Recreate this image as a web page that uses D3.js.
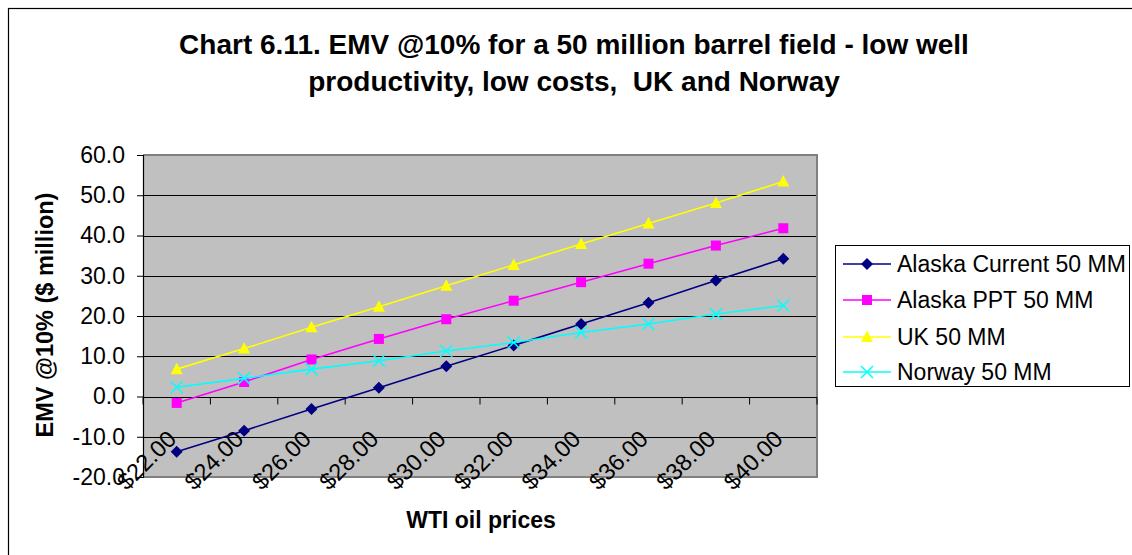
<!DOCTYPE html>
<html>
<head>
<meta charset="utf-8">
<script src="https://cdn.jsdelivr.net/npm/d3@7"></script>
<style>
  html, body { margin: 0; padding: 0; background: #fff; }
  svg { display: block; font-family: "Liberation Sans", Arial, sans-serif; }
  .pre { white-space: pre; }
</style>
</head>
<body>
<svg id="chart" width="1132" height="555"></svg>
<script>
const categories = ["$22.00","$24.00","$26.00","$28.00","$30.00","$32.00","$34.00","$36.00","$38.00","$40.00"];
const alaskaCurrent = [-13.7, -8.5, -3.1, 2.2, 7.5, 12.7, 18.0, 23.3, 28.8, 34.2];
const alaskaPPT     = [-1.6, 3.6, 9.2, 14.3, 19.2, 23.8, 28.4, 33.0, 37.5, 41.8];
const uk            = [6.8, 11.9, 17.2, 22.3, 27.5, 32.7, 37.9, 43.0, 48.1, 53.4];
const norway        = [2.3, 4.5, 6.8, 8.9, 11.3, 13.4, 15.9, 18.0, 20.5, 22.6];
const seriesNames = ["Alaska Current 50 MM", "Alaska PPT 50 MM", "UK 50 MM", "Norway 50 MM"];
const yTicks = [-20, -10, 0, 10, 20, 30, 40, 50, 60];
const titleLines = ["Chart 6.11. EMV @10% for a 50 million barrel field - low well", "productivity, low costs,  UK and Norway"];
const yTitle = "EMV @10% ($ million)";
const xTitle = "WTI oil prices";

const series = [
  { name: seriesNames[0], values: alaskaCurrent, color: "#000080", marker: "diamond" },
  { name: seriesNames[1], values: alaskaPPT, color: "#FF00FF", marker: "square" },
  { name: seriesNames[2], values: uk, color: "#FFFF00", marker: "triangle" },
  { name: seriesNames[3], values: norway, color: "#00FFFF", marker: "x" }
];

const svg = d3.select("#chart");
const L = 143, R = 817, T = 155, B = 477;

// outer chart border
svg.append("rect").attr("x", 8.5).attr("y", 8.5).attr("width", 1140).attr("height", 560)
  .attr("fill", "#fff").attr("stroke", "#000").attr("stroke-width", 1.2);

const x = d3.scaleBand().domain(categories).range([L, R]).padding(0);
const y = d3.scaleLinear().domain([-20, 60]).range([B, T]);

// plot background
svg.append("rect").attr("x", L).attr("y", T).attr("width", R - L).attr("height", B - T).attr("fill", "#C0C0C0");

// gridlines
svg.append("g").selectAll("line").data(yTicks.filter(d => d > -20 && d < 60)).join("line")
  .attr("x1", L).attr("x2", R).attr("y1", d => Math.round(y(d)) + 0.5).attr("y2", d => Math.round(y(d)) + 0.5)
  .attr("stroke", "#000").attr("stroke-width", 1);

// plot border (gray)
svg.append("path")
  .attr("d", `M${L},${T}H${R}V${B}H${L}`)
  .attr("fill", "none").attr("stroke", "#808080").attr("stroke-width", 2);

// y axis
const yAxis = d3.axisLeft(y).tickValues(yTicks).tickSize(6).tickPadding(12).tickFormat(d => d.toFixed(1));
const gy = svg.append("g").attr("transform", `translate(${L},0)`).call(yAxis);
gy.select(".domain").attr("stroke", "#000").attr("stroke-width", 1.2);
gy.selectAll(".tick line").attr("stroke", "#000");
gy.selectAll(".tick text").attr("font-size", 23).attr("fill", "#000")
  .attr("font-family", "Liberation Sans, Arial, sans-serif");

// x axis at y=0
const y0 = Math.round(y(0)) + 0.5;
const gx = svg.append("g").attr("transform", `translate(0,${y0})`);
gx.append("line").attr("x1", L).attr("x2", R).attr("stroke", "#000").attr("stroke-width", 1.2);
const bounds = categories.map(c => x(c)).concat([R]);
gx.selectAll("line.tk").data(bounds).join("line").attr("class", "tk")
  .attr("x1", d => d).attr("x2", d => d).attr("y1", 0).attr("y2", 7).attr("stroke", "#000");
gx.selectAll("text").data(categories).join("text")
  .attr("transform", d => `translate(${x(d) + x.bandwidth() / 2 + 1},43) rotate(-45)`)
  .attr("text-anchor", "end").attr("font-size", 23.5).attr("fill", "#000")
  .text(d => d);

// lines and markers
const line = d3.line().x((d, i) => x(categories[i]) + x.bandwidth() / 2).y(d => y(d));
function markerPath(m) {
  if (m === "diamond") return "M0,-6L6,0L0,6L-6,0Z";
  if (m === "square") return "M-5,-5H5V5H-5Z";
  if (m === "triangle") return "M0,-6.5L6,5L-6,5Z";
  return "M-6,-6L6,6M-6,6L6,-6";
}

function drawMarker(g, m, color, cx, cy) {
  const p = g.append("path").attr("transform", `translate(${cx},${cy})`).attr("d", markerPath(m));
  if (m === "x") p.attr("fill", "none").attr("stroke", color).attr("stroke-width", 1.5);
  else p.attr("fill", color).attr("stroke", "none");
}

series.forEach(s => {
  const g = svg.append("g");
  g.append("path").attr("d", line(s.values)).attr("fill", "none").attr("stroke", s.color).attr("stroke-width", 1.6);
  s.values.forEach((v, i) => drawMarker(g, s.marker, s.color, x(categories[i]) + x.bandwidth() / 2, y(v)));
});

// titles
svg.append("text").attr("class", "pre").attr("x", 574).attr("text-anchor", "middle").attr("font-weight", "bold").attr("font-size", 28)
  .selectAll("tspan").data(titleLines).join("tspan")
  .attr("x", 574).attr("y", (d, i) => 54 + i * 37).text(d => d);

svg.append("text").attr("transform", `translate(53,${(T + B) / 2 - 1}) rotate(-90)`)
  .attr("text-anchor", "middle").attr("font-weight", "bold").attr("font-size", 23.5).text(yTitle);

svg.append("text").attr("x", (L + R) / 2 + 1).attr("y", 528).attr("text-anchor", "middle")
  .attr("font-weight", "bold").attr("font-size", 23).text(xTitle);

// legend
const lg = svg.append("g");
lg.append("rect").attr("x", 835.5).attr("y", 245.5).attr("width", 294).attr("height", 141)
  .attr("fill", "#fff").attr("stroke", "#000").attr("stroke-width", 1);
const legY = [264, 300, 337, 372];
series.forEach((s, i) => {
  const gi = lg.append("g");
  gi.append("line").attr("x1", 843).attr("x2", 891).attr("y1", legY[i]).attr("y2", legY[i])
    .attr("stroke", s.color).attr("stroke-width", 1.6);
  drawMarker(gi, s.marker, s.color, 867, legY[i]);
  gi.append("text").attr("x", 897).attr("y", legY[i]).attr("dy", "0.35em").attr("font-size", 23).text(s.name);
});
</script>
</body>
</html>
